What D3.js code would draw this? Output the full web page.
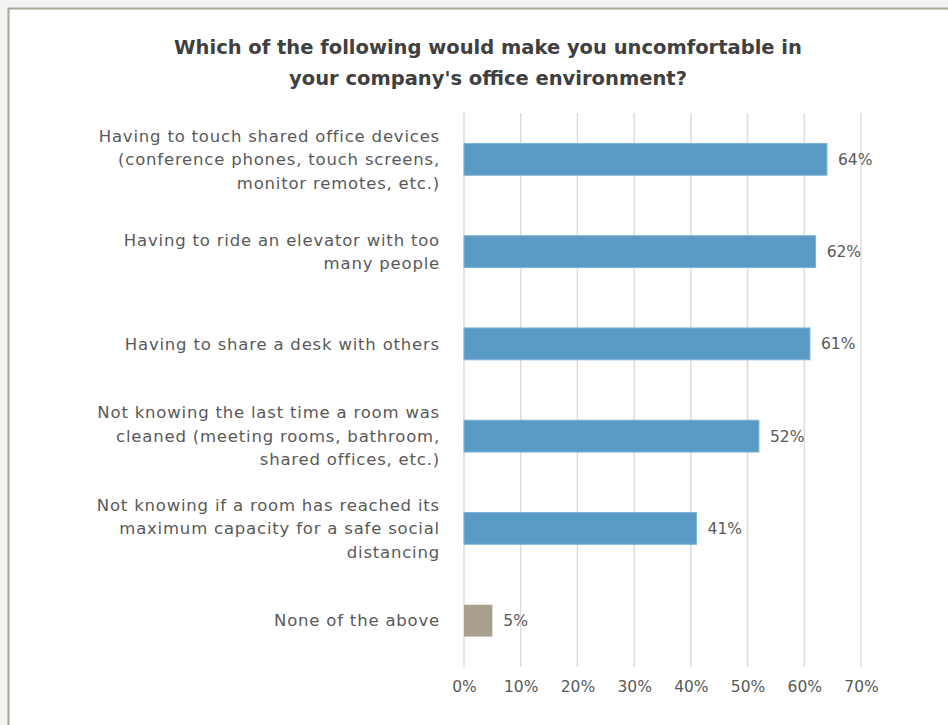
<!DOCTYPE html>
<html><head><meta charset="utf-8">
<script src="https://cdn.jsdelivr.net/npm/d3@7"></script>
<style>
html,body{margin:0;padding:0;background:#f3f3f3;}
svg{display:block;}
</style></head>
<body>
<svg id="chart" width="948" height="725"></svg>
<script>
const categories = [
  ["Having to touch shared office devices","(conference phones, touch screens,","monitor remotes, etc.)"],
  ["Having to ride an elevator with too","many people"],
  ["Having to share a desk with others"],
  ["Not knowing the last time a room was","cleaned (meeting rooms, bathroom,","shared offices, etc.)"],
  ["Not knowing if a room has reached its","maximum capacity for a safe social","distancing"],
  ["None of the above"]
];
const values = [64, 62, 61, 52, 41, 5];
const barColors = ["#5a9bc6","#5a9bc6","#5a9bc6","#5a9bc6","#5a9bc6","#a8a08c"];
const ticks = [0,10,20,30,40,50,60,70];
const titleLines = ["Which of the following would make you uncomfortable in","your company's office environment?"];

const svg = d3.select("#chart");
const font = "'DejaVu Sans', sans-serif";

// frame
svg.append("rect").attr("x",8.5).attr("y",8.5).attr("width",960).attr("height",740)
  .attr("fill","#ffffff").attr("stroke","#aaa595").attr("stroke-width",2);

const x = d3.scaleLinear().domain([0,70]).range([464,861]);
const y = d3.scaleBand().domain(d3.range(values.length)).range([113,667]).paddingInner(0.655).paddingOuter(0.33);

// title
svg.append("g").selectAll("text").data(titleLines).join("text")
  .attr("x",488).attr("y",(d,i)=>54+i*31)
  .attr("text-anchor","middle").attr("font-family",font).attr("font-weight","bold")
  .attr("font-size",19.5).attr("fill","#404040").text(d=>d);

// gridlines
svg.append("g").selectAll("line").data(ticks).join("line")
  .attr("x1",d=>x(d)).attr("x2",d=>x(d)).attr("y1",113).attr("y2",667)
  .attr("stroke","#dcdcdc").attr("stroke-width",1.5);

// x axis labels
const xAxis = d3.axisBottom(x).tickValues(ticks).tickFormat(d=>d+"%").tickSize(0).tickPadding(0);
const gx = svg.append("g").attr("transform","translate(0,681)").call(xAxis);
gx.select(".domain").remove();
gx.selectAll("text").attr("font-family",font).attr("font-size",15.5).attr("fill","#595959");

// bars
svg.append("g").selectAll("rect").data(values).join("rect")
  .attr("x",x(0)).attr("y",(d,i)=>y(i)).attr("width",d=>x(d)-x(0)).attr("height",y.bandwidth())
  .attr("fill",(d,i)=>barColors[i]).attr("stroke",(d,i)=>i<5?"#7fb3d6":"none").attr("stroke-width",1);

// value labels
svg.append("g").selectAll("text").data(values).join("text")
  .attr("x",d=>x(d)+11).attr("y",(d,i)=>y(i)+y.bandwidth()/2).attr("dy","0.35em")
  .attr("font-family",font).attr("font-size",15.5).attr("fill","#595959").text(d=>d+"%");

// category labels
const lh = 23.5;
svg.append("g").selectAll("text").data(categories).join("text")
  .attr("text-anchor","end").attr("font-family",font).attr("font-size",16.5)
  .attr("letter-spacing",0.8).attr("fill","#595959")
  .each(function(lines,i){
    const cy = y(i)+y.bandwidth()/2;
    const t0 = cy - (lines.length-1)*lh/2;
    d3.select(this).selectAll("tspan").data(lines).join("tspan")
      .attr("x",440).attr("y",(d,j)=>t0+j*lh).attr("dy","0.35em").text(d=>d);
  });
</script>
</body></html>
